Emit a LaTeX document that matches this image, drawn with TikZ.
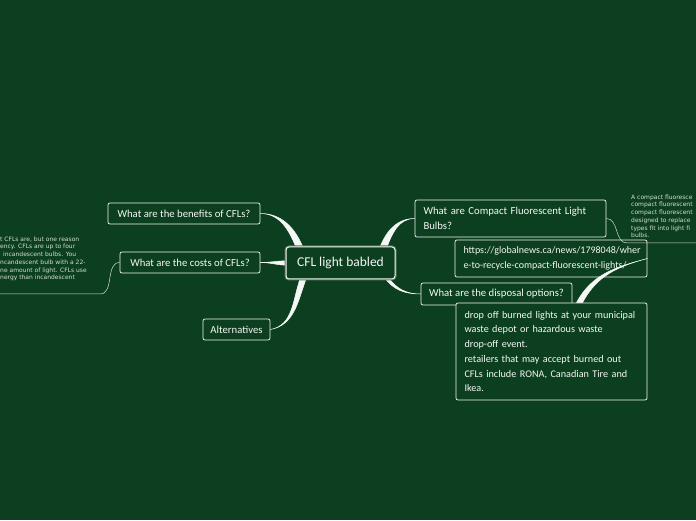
\documentclass[tikz,border=0pt]{standalone}
\usepackage{fontspec}
\setmainfont{Carlito}
\newfontfamily\notefont{DejaVu Sans}
\usepackage{xcolor}
\usepackage{tikz}
\usetikzlibrary{positioning,calc,backgrounds}
\hyphenpenalty=10000

\definecolor{board}{HTML}{0C3F1F}
\definecolor{chalk}{HTML}{F4F7F4}
\definecolor{notegray}{HTML}{D5DDD5}

\tikzset{
  topic/.style={draw=chalk, line width=0.7pt, rounded corners=2pt, fill=board, text=chalk,
    font=\fontsize{10.7}{14.7}\selectfont, inner sep=0pt, minimum height=21pt},
  bigtopic/.style={topic, line width=1pt, rounded corners=3pt, minimum width=109pt, minimum height=32pt,
    font=\fontsize{13.5}{15}\selectfont, preaction={draw=chalk!30!board, line width=3pt}},
  longtopic/.style={topic, align=left, inner xsep=8.5pt, font=\fontsize{10.2}{14.7}\selectfont},
  limb/.style={fill=chalk, draw=chalk, line width=0.5pt, line join=round},
  twig/.style={draw=notegray, line width=0.5pt},
  notetext/.style={text=notegray, font=\notefont\fontsize{6}{7.7}\selectfont, inner sep=0pt,
    align=left, anchor=north west},
}

\begin{document}
\begin{tikzpicture}[x=1pt,y=1pt]
  \useasboundingbox (0,0) rectangle (696,520);
  \node[bigtopic] (cfl) at (340.5,257) {CFL light babled};
  \node[topic, minimum width=152pt] (ben) at (184,306.5) {What are the benefits of CFLs?};
  \node[topic, minimum width=140pt] (cost) at (190,257.5) {What are the costs of CFLs?};
  \node[topic, minimum width=67pt] (alt) at (236.5,190.5) {Alternatives};
  \node[longtopic, text width=174pt, minimum height=37pt, font=\fontsize{10.7}{14.7}\selectfont] (cfli) at (510.5,301.5)
    {What are Compact Fluorescent Light\\Bulbs?};
  \node[topic, minimum width=151pt, minimum height=22pt] (disp) at (496.5,226) {What are the disposal options?};
  \node[longtopic, text width=175pt, minimum height=37pt, font=\fontsize{10}{14.7}\selectfont] (url) at (551,261.5)
    {https://globalnews.ca/news/1798048/wher\\e-to-recycle-compact-fluorescent-lights/};
  \node[longtopic, text width=174pt, minimum height=97pt] (drop) at (551.5,168.5)
    {drop off burned lights at your municipal\\waste depot or hazardous waste\\drop-off event.\\retailers that may accept burned out\\CFLs include RONA, Canadian Tire and\\Ikea.};
  \filldraw[limb] ($(drop.north)+(25,0)$) to[out=62,in=195] (url.east)
    to[out=195,in=62] ($(drop.north)+(31,0)$) -- cycle;

  % notes
  \node[notetext] (rtext) at (631,325.5) {A compact fluoresce\\compact fluorescent\\compact fluorescent\\designed to replace\\types fit into light fi\\bulbs.};
  \node[notetext] (ltext) at (0,283.5) {t CFLs are, but one reason\\ency. CFLs are up to four\\\hspace*{3pt}incandescent bulbs. You\\ncandescent bulb with a 22-\\ne amount of light. CFLs use\\nergy than incandescent};
  \coordinate (rbend) at (627,277);
  \coordinate (rnote) at (696,277);
  \coordinate (lbend) at (100,226);
  \coordinate (lnote) at (0,226);
  \draw[twig] (cfli.east) to[out=0,in=180] (rbend) -- (rnote);
  \draw[twig] (cost.west) to[out=180,in=0] (lbend) -- (lnote);

  \begin{scope}[on background layer]
    \fill[board] (0,0) rectangle (696,520);
    \filldraw[limb] ($(cfl.north west)+(11,-2)$) to[out=112,in=0] (ben.east)
      to[out=0,in=112] ($(cfl.north west)+(18,-2)$) -- cycle;
    \filldraw[limb] ($(cfl.west)+(2,2.2)$) to[out=180,in=0] (cost.east)
      to[out=0,in=180] ($(cfl.west)+(2,-2.2)$) -- cycle;
    \filldraw[limb] ($(cfl.south west)+(15,2)$) to[out=250,in=10] (alt.east)
      to[out=10,in=250] ($(cfl.south west)+(21,2)$) -- cycle;
    \filldraw[limb] ($(cfl.north east)+(-16,-2)$) to[out=70,in=180] (cfli.west)
      to[out=180,in=70] ($(cfl.north east)+(-9,-2)$) -- cycle;
    \filldraw[limb] ($(cfl.south east)+(-11,2)$) to[out=-55,in=180] (disp.west)
      to[out=180,in=-55] ($(cfl.south east)+(-7,2)$) -- cycle;
  \end{scope}
\end{tikzpicture}
\end{document}
